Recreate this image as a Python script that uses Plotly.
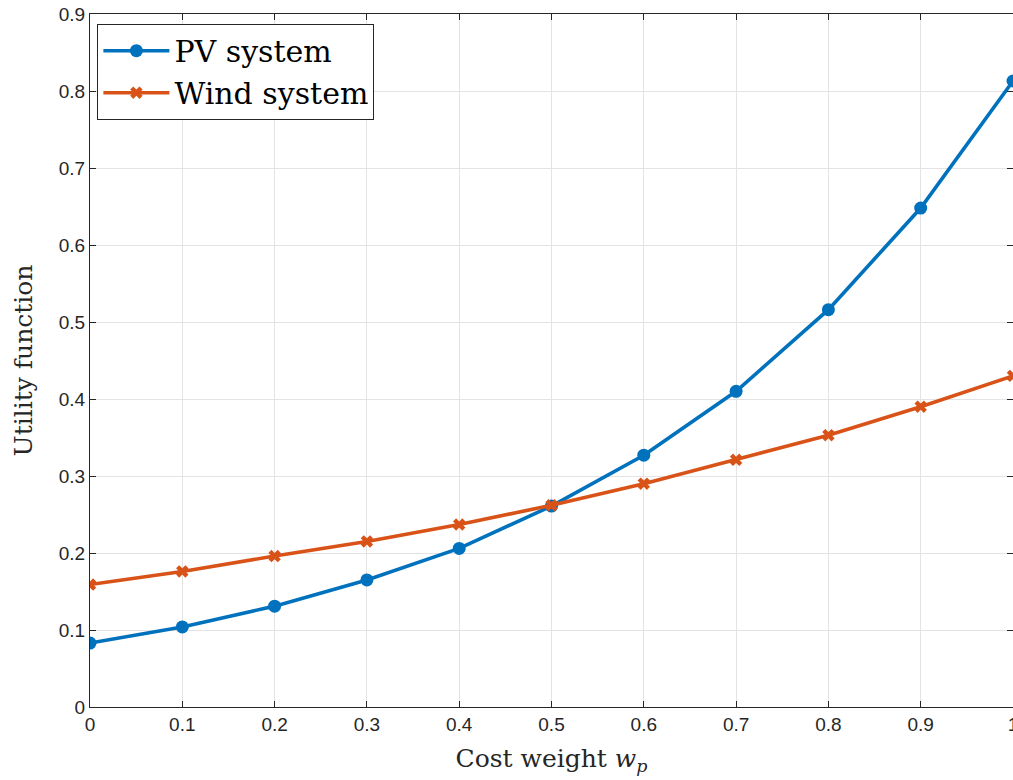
import plotly.graph_objects as go

w_p = [0, 0.1, 0.2, 0.3, 0.4, 0.5, 0.6, 0.7, 0.8, 0.9, 1.0]
pv_utility = [0.083, 0.104, 0.131, 0.165, 0.206, 0.261, 0.327, 0.410, 0.516, 0.648, 0.813]
wind_utility = [0.159, 0.176, 0.196, 0.215, 0.237, 0.262, 0.290, 0.321, 0.353, 0.390, 0.430]

x_ticks = [0, 0.1, 0.2, 0.3, 0.4, 0.5, 0.6, 0.7, 0.8, 0.9, 1]
x_tick_labels = ["0", "0.1", "0.2", "0.3", "0.4", "0.5", "0.6", "0.7", "0.8", "0.9", "1"]
y_ticks = [0, 0.1, 0.2, 0.3, 0.4, 0.5, 0.6, 0.7, 0.8, 0.9]
y_tick_labels = ["0", "0.1", "0.2", "0.3", "0.4", "0.5", "0.6", "0.7", "0.8", "0.9"]

blue = "#0072BD"
orange = "#D95319"
serif = "DejaVu Serif, Liberation Serif, serif"

fig = go.Figure()
fig.add_trace(go.Scatter(
    x=w_p, y=pv_utility, mode="lines+markers", name="PV system",
    line=dict(color=blue, width=3.6),
    marker=dict(symbol="circle", size=13, color=blue),
))
fig.add_trace(go.Scatter(
    x=w_p, y=wind_utility, mode="lines+markers", name="Wind system",
    line=dict(color=orange, width=3.6),
    marker=dict(symbol="x", size=11, color=orange),
))

axis_common = dict(
    showgrid=True, gridcolor="#e3e3e3", gridwidth=1,
    showline=True, linecolor="#262626", linewidth=1,
    mirror="ticks", ticks="inside", ticklen=6, tickcolor="#262626",
    tickfont=dict(family="Liberation Sans, Arial, sans-serif", size=19, color="#262626"),
    zeroline=False, ticklabeloverflow="allow", automargin=False,
)

fig.update_layout(
    width=1013, height=780,
    margin=dict(l=90, r=0, t=14, b=73),
    paper_bgcolor="white", plot_bgcolor="white",
    xaxis=dict(range=[0, 1], tickvals=x_ticks, ticktext=x_tick_labels,
               title=dict(text="Cost weight <i>w</i><sub><i>p</i></sub>",
                          font=dict(family=serif, size=25, color="#262626"),
                          standoff=15),
               **axis_common),
    yaxis=dict(range=[0, 0.9], tickvals=y_ticks, ticktext=y_tick_labels,
               title=dict(text="Utility function",
                          font=dict(family=serif, size=25, color="#262626"),
                          standoff=19),
               **axis_common),
    legend=dict(x=0.008, y=0.986, xanchor="left", yanchor="top",
                bgcolor="white", bordercolor="#262626", borderwidth=1,
                font=dict(family=serif, size=30, color="black"),
                itemwidth=66, tracegroupgap=0),
    showlegend=True,
)

fig.write_html("out.html")
